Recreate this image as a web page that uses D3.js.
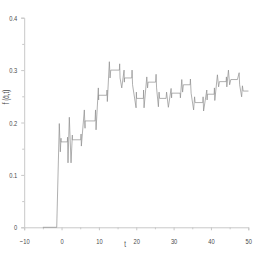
<!DOCTYPE html>
<html><head><meta charset="utf-8">
<script src="https://cdn.jsdelivr.net/npm/d3@7"></script>
<style>html,body{margin:0;padding:0;background:#fff;}</style>
</head><body>
<svg id="c" width="262" height="262"></svg>
<script>
const tValues = [-5,-1.29,-0.60,-0.33,-0.14,-0.14,1.55,1.60,1.73,2.08,2.54,2.89,2.89,5.14,5.22,5.30,6.10,6.29,6.29,8.97,9.10,9.24,9.85,9.93,9.93,12.10,12.18,12.26,12.80,12.99,13.17,15.48,15.56,15.67,16.12,16.74,16.82,16.87,18.80,18.88,19.01,19.95,20.03,20.09,21.91,21.96,22.09,22.82,23.03,23.17,25.18,25.31,25.44,25.93,26.11,26.25,27.99,28.12,28.60,29.33,29.46,29.52,31.74,31.82,32.19,32.41,32.62,34.42,34.50,34.69,35.36,35.62,35.76,37.82,37.90,38.03,38.89,38.97,39.05,40.85,40.93,41.03,41.73,42.05,42.27,44.06,44.14,44.25,44.68,45.00,45.32,47.09,47.55,47.68,48.22,48.43,48.62,50.04];
const fValues = [0,0,0.198,0.144,0.170,0.163,0.163,0.172,0.123,0.210,0.123,0.176,0.167,0.167,0.178,0.155,0.224,0.189,0.203,0.203,0.224,0.186,0.266,0.243,0.252,0.252,0.262,0.240,0.316,0.285,0.300,0.300,0.312,0.285,0.266,0.300,0.277,0.285,0.285,0.300,0.272,0.228,0.258,0.246,0.246,0.262,0.228,0.287,0.266,0.277,0.277,0.292,0.266,0.230,0.258,0.246,0.246,0.258,0.229,0.265,0.247,0.256,0.256,0.247,0.282,0.258,0.272,0.272,0.283,0.256,0.224,0.249,0.238,0.238,0.249,0.222,0.262,0.243,0.254,0.254,0.266,0.242,0.291,0.268,0.278,0.278,0.287,0.268,0.300,0.272,0.282,0.282,0.295,0.272,0.249,0.270,0.260,0.260];
const xTicks = [-10,0,10,20,30,40,50];
const xMinor = [-5,5,15,25,35,45];
const yTicks = [0,0.1,0.2,0.3,0.4];
const yTickLabels = ["0","0.1","0.2","0.3","0.4"];
const yMinor = [0.05,0.15,0.25,0.35];

const svg = d3.select("#c");
const x = d3.scaleLinear().domain([-10,50]).range([24.2,248.3]);
const y = d3.scaleLinear().domain([0,0.4]).range([227.3,17.7]);
const font = "'Liberation Sans','Arial',sans-serif";
const axisCol = "#c8c8c8", txtCol = "#4a4a4a";
const sx = 0.72;

// y axis
svg.append("g").attr("transform","translate(24.2,0)")
  .call(d3.axisLeft(y).tickValues(yTicks).tickSize(3).tickFormat((d,i)=>yTickLabels[i]).tickPadding(4))
  .call(g=>g.selectAll(".tick text").attr("x",-7/sx).attr("transform",`scale(${sx},1)`));
svg.append("g").attr("transform","translate(24.2,0)")
  .call(d3.axisLeft(y).tickValues(yMinor).tickSize(2).tickFormat(""))
  .call(g=>g.select(".domain").remove());
// x axis
svg.append("g").attr("transform","translate(0,227.3)")
  .call(d3.axisBottom(x).tickValues(xTicks).tickSize(3).tickPadding(8))
  .call(g=>g.selectAll(".tick text").attr("transform",`scale(${sx},1)`));
svg.append("g").attr("transform","translate(0,227.3)")
  .call(d3.axisBottom(x).tickValues(xMinor).tickSize(2).tickFormat(""))
  .call(g=>g.select(".domain").remove());

svg.selectAll(".domain").attr("stroke",axisCol).attr("stroke-width",1);
svg.selectAll(".tick line").attr("stroke",axisCol);
svg.selectAll(".tick text").attr("fill",txtCol).style("font-family",font).style("font-size","8px");

svg.append("text").attr("transform","translate(125,247) scale(0.72,1)").attr("text-anchor","middle")
  .attr("fill",txtCol).style("font-family",font).style("font-size","8.5px").text("t");
svg.append("text").attr("transform","translate(9,97) rotate(-90) scale(0.72,1)").attr("text-anchor","middle")
  .attr("fill",txtCol).style("font-family",font).style("font-size","8.5px").text("f (ᾱ,t)");

const pts = tValues.map((t,i)=>[t,fValues[i]]);
svg.append("path").datum(pts)
  .attr("fill","none").attr("stroke","#8e8e8e").attr("stroke-width",0.7)
  .attr("d",d3.line().x(d=>x(d[0])).y(d=>y(d[1])));
</script>
</body></html>
